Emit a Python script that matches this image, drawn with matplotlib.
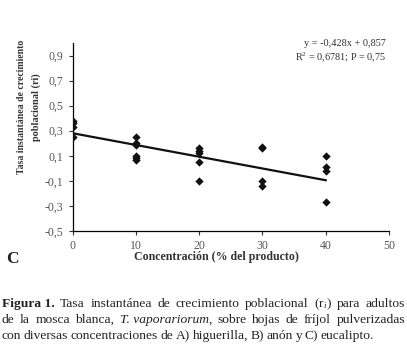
import numpy as np
import matplotlib
matplotlib.use("Agg")
import matplotlib.pyplot as plt

# ---- data ----
conc_x = [0, 0, 0, 0,
          10, 10, 10, 10, 10, 10,
          20, 20, 20, 20, 20,
          30, 30, 30, 30,
          40, 40, 40, 40]
rate_y = [0.38, 0.36, 0.33, 0.25,
          0.25, 0.20, 0.19, 0.10, 0.08, 0.07,
          0.16, 0.14, 0.12, 0.05, -0.10,
          0.17, 0.16, -0.10, -0.14,
          0.10, 0.01, -0.02, -0.27]
trend_x = [0, 40]
trend_y = [0.28, -0.095]
x_ticks = [0, 10, 20, 30, 40, 50]
y_ticks = [-0.5, -0.3, -0.1, 0.1, 0.3, 0.5, 0.7, 0.9]
y_ticklabels = ["-0,5", "-0,3", "-0,1", "0,1", "0,3", "0,5", "0,7", "0,9"]
eq_lines = ["y = -0,428x + 0,857", "R$^{2}$ = 0,6781; P = 0,75"]

plt.rcParams['font.family'] = ['Liberation Serif', 'DejaVu Serif']
plt.rcParams['mathtext.fontset'] = 'custom'
plt.rcParams['mathtext.rm'] = 'Liberation Serif'
plt.rcParams['mathtext.it'] = 'Liberation Serif:italic'

W, H = 407, 359
fig = plt.figure(figsize=(W/100, H/100), dpi=100)
ax = fig.add_axes([72.7/W, 1-231/H, (389-72.7)/W, (231-43)/H])

ax.scatter(conc_x, rate_y, marker='D', s=18, color='#111111', zorder=3, linewidths=0)
ax.plot(trend_x, trend_y, color='#111111', lw=1.6, zorder=2)

ax.set_xlim(0, 50)
ax.set_ylim(-0.5, 1.0)
ax.set_xticks(x_ticks)
ax.set_xticklabels([str(v) for v in x_ticks])
ax.set_yticks(y_ticks)
ax.set_yticklabels(y_ticklabels)
for s in ['top', 'right']:
    ax.spines[s].set_visible(False)
for s in ['left', 'bottom']:
    ax.spines[s].set_linewidth(0.9)
ax.tick_params(axis='both', direction='out', length=3, width=0.8,
               labelsize=8.5, colors='#333333', labelcolor='#555555', pad=3.5)

# equation
fig.text(386/W, 1-43/H, eq_lines[0], ha='right', va='center', fontsize=7.4, color='#333333')
fig.text(386/W, 1-57/H, eq_lines[1], ha='right', va='center', fontsize=7.4, color='#333333')

# labels
fig.text(22/W, 1-107/H, "Tasa instantánea de crecimiento", rotation=90, ha='center', va='center',
         fontsize=7.0, fontweight='bold', color='#333333')
fig.text(36/W, 1-107/H, "poblacional (ri)", rotation=90, ha='center', va='center',
         fontsize=7.4, fontweight='bold', color='#333333')
fig.text(216/W, 1-257/H, "Concentración (% del producto)", ha='center', va='center',
         fontsize=8.6, fontweight='bold', color='#333333')
fig.text(12/W, 1-259/H, "C", ha='center', va='center', fontsize=12.5, fontweight='bold', color='#222222')

# caption (justified)
fig.canvas.draw()
renderer = fig.canvas.get_renderer()
cap_fs = 9.7
lines = [
    ([("Figura 1.", 'bold', 'normal'), ("Tasa", 'normal', 'normal'), ("instantánea", 'normal', 'normal'),
      ("de", 'normal', 'normal'), ("crecimiento", 'normal', 'normal'), ("poblacional", 'normal', 'normal'),
      ("(r$_{i}$)", 'normal', 'normal'), ("para", 'normal', 'normal'), ("adultos", 'normal', 'normal')], True),
    ([("de", 'normal', 'normal'), ("la", 'normal', 'normal'), ("mosca", 'normal', 'normal'),
      ("blanca,", 'normal', 'normal'), ("T. vaporariorum", 'normal', 'italic'), (",", 'normal', 'normal'),
      ("sobre", 'normal', 'normal'), ("hojas", 'normal', 'normal'), ("de", 'normal', 'normal'),
      ("fríjol", 'normal', 'normal'), ("pulverizadas", 'normal', 'normal')], True),
    ([("con", 'normal', 'normal'), ("diversas", 'normal', 'normal'), ("concentraciones", 'normal', 'normal'),
      ("de", 'normal', 'normal'), ("A)", 'normal', 'normal'), ("higuerilla,", 'normal', 'normal'),
      ("B)", 'normal', 'normal'), ("anón", 'normal', 'normal'), ("y", 'normal', 'normal'),
      ("C)", 'normal', 'normal'), ("eucalipto.", 'normal', 'normal')], False),
]
ys = [304, 320, 336]
x0, x1 = 2, 405
for (tokens, justify), yc in zip(lines, ys):
    texts = []
    widths = []
    for t, wgt, sty in tokens:
        tt = fig.text(0, 1-yc/H, t, fontsize=cap_fs, fontweight=wgt, fontstyle=sty,
                      ha='left', va='center', color='#222222')
        bb = tt.get_window_extent(renderer)
        texts.append(tt)
        widths.append(bb.width)
    gaps = []
    for i in range(1, len(tokens)):
        gaps.append(0 if tokens[i][0] == ',' else 1)
    ngap = sum(gaps)
    if justify:
        g = (x1 - x0 - sum(widths)) / ngap
    else:
        g = 2.5
    x = x0
    for i, tt in enumerate(texts):
        if i > 0:
            x += g * gaps[i-1]
        tt.set_x(x/W)
        x += widths[i]

fig.savefig("out.png", dpi=100)
